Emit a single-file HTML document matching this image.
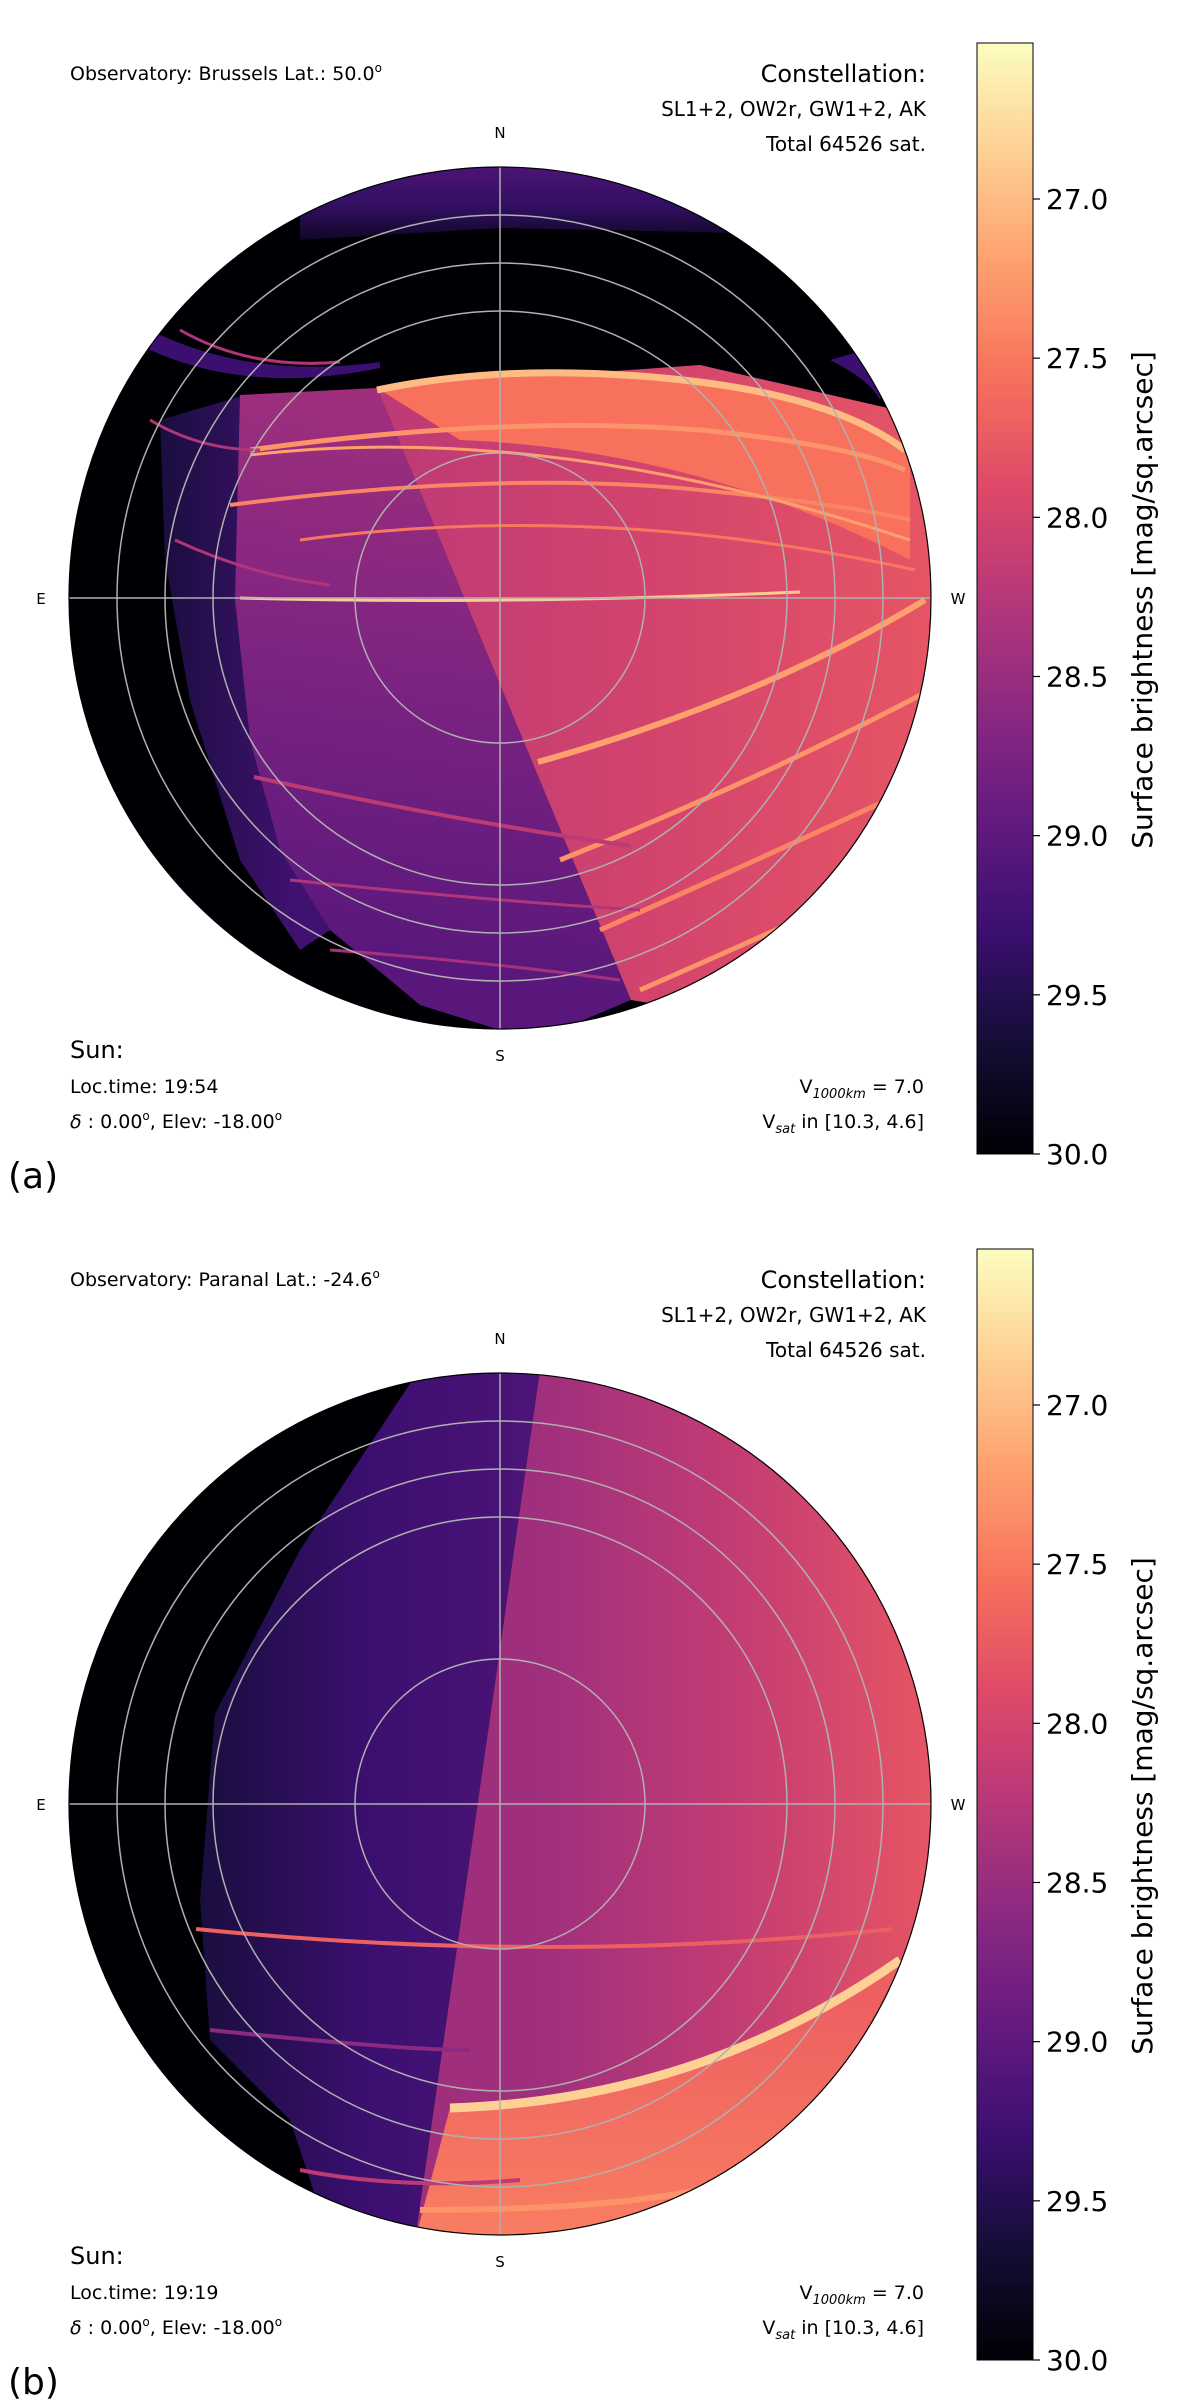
<!DOCTYPE html>
<html><head><meta charset="utf-8"><style>
html,body{margin:0;padding:0;background:#fff;}
svg{display:block;font-family:"DejaVu Sans","Liberation Sans",sans-serif;}
</style></head><body>
<svg id="fig" width="1200" height="2405" viewBox="0 0 1200 2405" xmlns="http://www.w3.org/2000/svg"></svg>
<script>
const cbTicks=[27.0,27.5,28.0,28.5,29.0,29.5,30.0];
const cbTickLabels=["27.0","27.5","28.0","28.5","29.0","29.5","30.0"];
const vTop=26.51, vBot=30.0;
const panelNames=["a","b"];
const observatories=["Observatory: Brussels Lat.: 50.0","Observatory: Paranal Lat.: -24.6"];
const locTimes=["Loc.time: 19:54","Loc.time: 19:19"];
const ringAlt=[383,335,287,145];
const magma=[[0,0,0,4],[0.1,20,14,54],[0.2,59,15,112],[0.3,100,26,128],[0.4,140,41,129],[0.5,183,55,121],[0.6,222,73,104],[0.7,247,112,92],[0.8,254,159,109],[0.9,254,207,146],[1,252,253,191]];
function cmap(v){let t=(vBot-v)/(vBot-vTop);t=Math.max(0,Math.min(1,t));
 for(let i=1;i<magma.length;i++){if(t<=magma[i][0]){const a=magma[i-1],b=magma[i],f=(t-a[0])/(b[0]-a[0]);
 return`rgb(${Math.round(a[1]+f*(b[1]-a[1]))},${Math.round(a[2]+f*(b[2]-a[2]))},${Math.round(a[3]+f*(b[3]-a[3]))})`;}}return"rgb(252,253,191)";}
const NS="http://www.w3.org/2000/svg";const svg=document.getElementById('fig');
function el(tag,attrs,parent,text){const e=document.createElementNS(NS,tag);for(const k in attrs)e.setAttribute(k,attrs[k]);if(text!==undefined)e.textContent=text;(parent||svg).appendChild(e);return e;}
const defs=el('defs',{});
let gid=0;
function grad(x1,y1,x2,y2,vals){const id='g'+(gid++);const g=el('linearGradient',{id,x1,y1,x2,y2,gradientUnits:'userSpaceOnUse'},defs);
 vals.forEach((v,i)=>el('stop',{offset:(i/(vals.length-1)),'stop-color':cmap(v)},g));return`url(#${id})`;}
const panelY=[0,1206];const R=431,CX=500;
panelNames.forEach((p,pi)=>{
 const dy=panelY[pi],CY=598+dy;
 const g=el('g',{});
 
 
 const cp=el('clipPath',{id:'clip'+p},defs);el('circle',{cx:CX,cy:CY,r:R},cp);
 const sky=el('g',{'clip-path':`url(#clip${p})`},g);
 
 
 el('circle',{cx:CX,cy:CY,r:R,fill:cmap(30)},sky);
 const T=(s)=>s.replace(/(-?\d+),(-?\d+)/g,(m,x,y)=>x+','+(+y+dy));
 if(pi===0){
  el('path',{d:T('M300,160 L960,160 L960,240 L700,232 L500,228 L300,240 Z'),fill:grad(0,165+dy,0,250+dy,[29.15,29.4,29.9])},sky);
  el('path',{d:T('M150,330 Q250,380 380,362 L380,368 Q250,395 150,350 Z'),fill:cmap(29.3)},sky);
  el('path',{d:T('M830,360 Q870,380 880,400 L900,340 Z'),fill:cmap(29.3)},sky);
  el('path',{d:T('M160,420 L245,395 L235,600 L250,740 L280,850 L330,930 L300,950 L240,860 L190,700 L165,560 Z'),fill:grad(160,0,300,0,[29.6,29.25])},sky);
  el('path',{d:T('M240,395 L377,388 L631,1000 L560,1030 L500,1030 L420,1005 L330,930 L280,850 L250,740 L235,600 Z'),fill:grad(377,400+dy,300,950+dy,[28.45,28.75,29.05])},sky);
  el('path',{d:T('M377,388 L700,365 L940,420 L940,1050 L631,1000 Z'),fill:grad(380,0,930,0,[28.2,28.0,27.8])},sky);
  el('path',{d:T('M377,388 Q520,360 700,380 Q850,400 910,450 L910,560 Q700,450 460,440 Z'),fill:cmap(27.55)},sky);
  const arcs=[['M377,390 Q520,360 700,382 Q840,400 905,450',27.0,7],['M250,450 Q500,415 700,430 Q850,445 905,470',27.3,5],['M230,505 Q500,470 700,490 Q850,505 910,520',27.4,4],['M250,455 Q550,420 910,540',27.2,3],['M300,540 Q600,500 915,570',27.5,3],['M180,330 Q250,370 340,362',28.3,3],['M150,420 Q200,450 260,450',28.3,3],['M175,540 Q250,575 330,585',28.3,3],['M240,598 Q500,605 800,592',26.9,3],['M538,762 Q760,700 925,600',27.2,6],['M560,860 Q760,780 930,690',27.3,5],['M600,930 Q780,850 930,780',27.4,5],['M640,990 Q800,920 930,860',27.3,5],['M254,777 Q450,820 631,846',28.2,4],['M290,880 Q480,900 640,910',28.3,3],['M330,950 Q470,960 620,980',28.4,3]];
  arcs.forEach(a=>{const e=el('path',{d:T(a[0]),fill:'none',stroke:cmap(a[1]),'stroke-width':a[2]},sky);
   
   });
 } else {
  el('path',{d:'M419,1370 L540,1370 L415,2240 L330,2240 L290,2120 L210,2040 L200,1900 L215,1714 L300,1550 Z',fill:grad(200,0,540,0,[29.6,29.3,29.15])},sky);
  el('path',{d:'M540,1370 L960,1370 L960,2240 L415,2240 Z',fill:grad(540,0,930,0,[28.45,28.15,27.8])},sky);
  el('path',{d:'M450,2108 Q650,2110 900,1960 L960,1960 L960,2240 L415,2240 Z',fill:grad(0,2000,0,2240,[27.7,27.45])},sky);
  const arcs=[['M450,2108 Q700,2100 900,1960',26.85,9],['M196,1929 Q550,1965 892,1929',27.7,4],['M210,2030 Q400,2050 470,2050',28.6,4],['M300,2170 Q400,2190 520,2180',28.2,4],['M420,2210 Q600,2210 700,2190',27.3,6]];
  arcs.forEach(a=>{const e=el('path',{d:a[0],fill:'none',stroke:cmap(a[1]),'stroke-width':a[2]},sky);
   
   });
 }
 ringAlt.forEach(r=>{const c=el('circle',{cx:CX,cy:CY,r,fill:'none',stroke:'#b0b0b0','stroke-width':1.5},g);
  
  });
 el('line',{x1:CX-R,y1:CY,x2:CX+R,y2:CY,stroke:'#b0b0b0','stroke-width':1.5},g);
 el('line',{x1:CX,y1:CY-R,x2:CX,y2:CY+R,stroke:'#b0b0b0','stroke-width':1.5},g);
 el('circle',{cx:CX,cy:CY,r:R,fill:'none',stroke:'#000','stroke-width':1.2},g);
 [['N',CX,CY-460],['S',CX,CY+463],['E',41,CY+6],['W',958,CY+6]].forEach(d=>{const t=el('text',{x:d[1],y:d[2],'font-size':15,'text-anchor':'middle'},g,d[0]);
  
  });
 const ob=el('text',{x:70,y:80+dy,'font-size':19},g,observatories[pi]);
 el('tspan',{'font-size':12,dy:-8},ob,'o');
 
 
 el('text',{x:926,y:82+dy,'font-size':24,'text-anchor':'end'},g,'Constellation:');
 el('text',{x:926,y:116+dy,'font-size':20,'text-anchor':'end'},g,'SL1+2, OW2r, GW1+2, AK');
 el('text',{x:926,y:151+dy,'font-size':20,'text-anchor':'end'},g,'Total 64526 sat.');
 el('text',{x:70,y:1058+dy,'font-size':24},g,'Sun:');
 el('text',{x:70,y:1093+dy,'font-size':19},g,locTimes[pi]);
 const dl=el('text',{x:70,y:1128+dy,'font-size':19},g);
 el('tspan',{'font-style':'italic'},dl,'δ');el('tspan',{},dl,' : 0.00');el('tspan',{'font-size':12,dy:-8},dl,'o');el('tspan',{dy:8},dl,', Elev: -18.00');el('tspan',{'font-size':12,dy:-8},dl,'o');
 const v1=el('text',{x:924,y:1093+dy,'font-size':19,'text-anchor':'end'},g);
 el('tspan',{},v1,'V');el('tspan',{'font-size':13,dy:5,'font-style':'italic'},v1,'1000km');el('tspan',{dy:-5},v1,' = 7.0');
 const v2=el('text',{x:924,y:1128+dy,'font-size':19,'text-anchor':'end'},g);
 el('tspan',{},v2,'V');el('tspan',{'font-size':13,dy:5,'font-style':'italic'},v2,'sat');el('tspan',{dy:-5},v2,' in [10.3, 4.6]');
 const pl=el('text',{x:8,y:1188+dy,'font-size':36},g,'('+p+')');
 
 
 const cb=el('g',{},g);
 
 
 const y0=43+dy,y1=1154+dy;
 const ys=v=>y0+(v-vTop)/(vBot-vTop)*(y1-y0);
 const stops=[];for(let i=0;i<=20;i++)stops.push(vTop+i*(vBot-vTop)/20);
 el('rect',{x:977,y:y0,width:56,height:y1-y0,fill:grad(0,y0,0,y1,stops),stroke:'#000','stroke-width':1},cb);
 cbTicks.forEach((v,i)=>{el('line',{x1:1033,x2:1040,y1:ys(v),y2:ys(v),stroke:'#000','stroke-width':1.2},cb);
  const t=el('text',{x:1046,y:ys(v)+10,'font-size':28},cb,cbTickLabels[i]);
  
  });
 el('text',{x:0,y:0,'font-size':28,'text-anchor':'middle',transform:`translate(1152,${600+dy}) rotate(-90)`},cb,'Surface brightness [mag/sq.arcsec]');
});
</script>
</body></html>
